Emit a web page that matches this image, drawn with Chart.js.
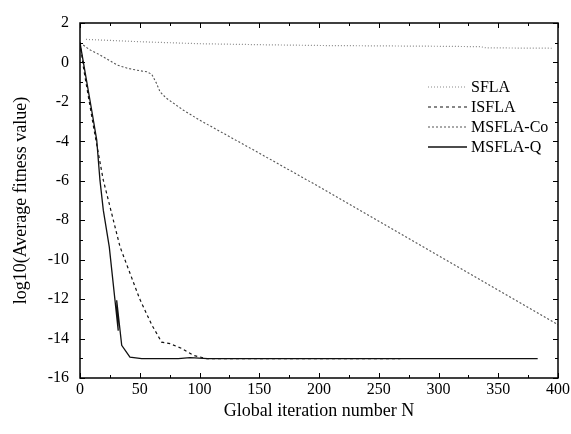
<!DOCTYPE html>
<html>
<head>
<meta charset="utf-8">
<script src="https://cdn.jsdelivr.net/npm/chart.js@4/dist/chart.umd.min.js"></script>
<style>
    html, body { margin: 0; padding: 0; background: #fff; }
    #wrap { width: 571px; height: 434px; }
</style>
</head>
<body>
<div id="wrap"><canvas id="fitnessChart" width="571" height="434"></canvas></div>
<script>
// Series (x = iteration, y = log10 of average fitness)
var sflaX = [5, 50, 100, 150, 200, 250, 300, 335, 340, 395];
var sflaY = [1.17, 1.05, 0.95, 0.9, 0.86, 0.84, 0.82, 0.8, 0.74, 0.72];

var isflaX = [0, 3, 5.6, 12, 19.5, 22.3, 33.5, 50, 60, 68.3, 75.3, 85, 94.8, 106, 150, 200, 268];
var isflaY = [1, -0.3, -1.23, -3.5, -5.97, -6.64, -9.35, -12.0, -13.3, -14.18, -14.26, -14.5, -14.85, -15.02, -15.02, -15.02, -15.02];

var coX = [0, 8, 17, 31, 40, 50, 56, 60, 64, 67, 72, 86.5, 100, 150, 200, 250, 300, 350, 400];
var coY = [1, 0.65, 0.37, -0.13, -0.3, -0.42, -0.47, -0.6, -1.06, -1.49, -1.8, -2.42, -2.92, -4.6, -6.3, -8.05, -9.8, -11.55, -13.3];

var qX = [0, 5, 10, 14, 16.7, 19.5, 24.5, 32, 30.7, 34.9, 41.8, 51.6, 82.3, 92, 107, 200, 300, 383];
var qY = [1, -0.76, -2.5, -3.94, -5.97, -7.49, -9.35, -13.6, -12.06, -14.34, -14.94, -15.02, -15.02, -14.97, -15.02, -15.02, -15.02, -15.02];

var seriesNames = ["SFLA", "ISFLA", "MSFLA-Co", "MSFLA-Q"];

var toPoints = function (xs, ys) {
    return xs.map(function (x, i) { return { x: x, y: ys[i] }; });
};

var serif = "'Liberation Serif', 'DejaVu Serif', serif";

// frame with inward ticks on all four sides
var frameTicks = {
    id: "frameTicks",
    afterDraw: function (chart) {
        var ctx = chart.ctx;
        var a = chart.chartArea;
        var xs = chart.scales.x, ys = chart.scales.y;
        ctx.save();
        ctx.strokeStyle = "#000";
        ctx.lineWidth = 1.5;
        ctx.strokeRect(a.left, a.top, a.right - a.left, a.bottom - a.top);
        ctx.lineWidth = 1;
        ctx.beginPath();
        for (var v = 0; v <= 400; v += 25) {
            var px = Math.round(xs.getPixelForValue(v)) + 0.5;
            var len = v % 50 === 0 ? 5 : 3;
            ctx.moveTo(px, a.bottom); ctx.lineTo(px, a.bottom - len);
            ctx.moveTo(px, a.top); ctx.lineTo(px, a.top + len);
        }
        for (var w = -16; w <= 2; w += 1) {
            var py = Math.round(ys.getPixelForValue(w)) + 0.5;
            var l2 = w % 2 === 0 ? 5 : 3;
            ctx.moveTo(a.left, py); ctx.lineTo(a.left + l2, py);
            ctx.moveTo(a.right, py); ctx.lineTo(a.right - l2, py);
        }
        ctx.stroke();

        // legend inside the plot
        ctx.font = "16px " + serif;
        ctx.textBaseline = "middle";
        ctx.fillStyle = "#000";
        chart.data.datasets.forEach(function (ds, i) {
            var y = 87 + i * 20;
            ctx.beginPath();
            ctx.strokeStyle = ds.borderColor;
            ctx.lineWidth = ds.borderWidth;
            ctx.setLineDash(ds.borderDash || []);
            ctx.moveTo(428, y); ctx.lineTo(467, y);
            ctx.stroke();
            ctx.setLineDash([]);
            ctx.fillText(ds.label, 471, y + 1);
        });
        ctx.restore();
    }
};

var ctx = document.getElementById("fitnessChart").getContext("2d");
new Chart(ctx, {
    type: "line",
    data: {
        datasets: [
            {
                label: seriesNames[0],
                data: toPoints(sflaX, sflaY),
                borderColor: "#8a8a8a",
                borderWidth: 1.2,
                borderDash: [1, 2],
            },
            {
                label: seriesNames[1],
                data: toPoints(isflaX, isflaY),
                borderColor: "#111",
                borderWidth: 1.2,
                borderDash: [3, 3],
            },
            {
                label: seriesNames[2],
                data: toPoints(coX, coY),
                borderColor: "#555",
                borderWidth: 1.1,
                borderDash: [2, 2],
            },
            {
                label: seriesNames[3],
                data: toPoints(qX, qY),
                borderColor: "#111",
                borderWidth: 1.3,
            },
        ],
    },
    options: {
        responsive: false,
        animation: false,
        elements: {
            point: { radius: 0 },
            line: { tension: 0, fill: false },
        },
        layout: { padding: { top: 23, right: 13, left: 0, bottom: 0 } },
        plugins: {
            legend: { display: false },
            tooltip: { enabled: false },
        },
        scales: {
            x: {
                type: "linear",
                min: 0,
                max: 400,
                grid: { display: false, drawTicks: false },
                border: { display: false },
                ticks: {
                    stepSize: 50,
                    padding: 2,
                    color: "#000",
                    font: { family: serif, size: 16 },
                },
                title: {
                    display: true,
                    text: "Global iteration number N",
                    color: "#000",
                    font: { family: serif, size: 18 },
                    padding: { top: 0, bottom: 12 },
                },
                afterFit: function (scale) {
                    scale.height = 56;
                    scale.paddingLeft = 0;
                    scale.paddingRight = 0;
                },
            },
            y: {
                type: "linear",
                min: -16,
                max: 2,
                grid: { display: false, drawTicks: false },
                border: { display: false },
                ticks: {
                    stepSize: 2,
                    padding: 11,
                    color: "#000",
                    font: { family: serif, size: 16 },
                },
                title: {
                    display: true,
                    text: "log10(Average fitness value)",
                    color: "#000",
                    font: { family: serif, size: 18 },
                    padding: { top: 10, bottom: 0 },
                },
                afterFit: function (scale) { scale.width = 80; },
            },
        },
    },
    plugins: [frameTicks],
});
</script>
</body>
</html>
